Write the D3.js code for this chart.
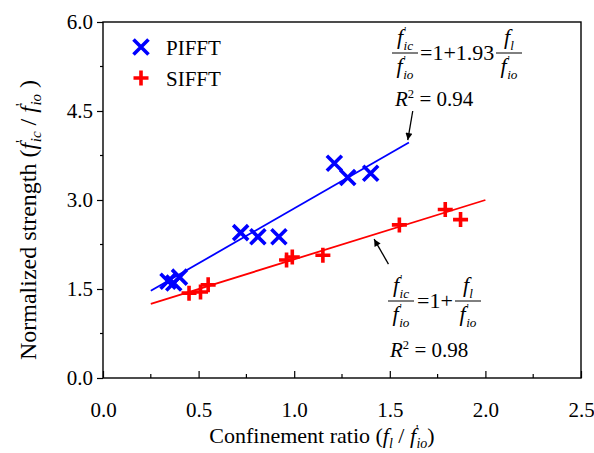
<!DOCTYPE html>
<html>
<head>
<meta charset="utf-8">
<script src="https://cdn.jsdelivr.net/npm/d3@7"></script>
<style>
  html, body { margin: 0; padding: 0; background: #fff; }
  svg { display: block; }
  svg text { font-family: "Times New Roman", Times, "Liberation Serif", "DejaVu Serif", serif; fill: #000; }
</style>
</head>
<body>
<svg id="chart" width="594" height="453"></svg>
<script>
// PIFFT specimens (blue crosses)
const pifftRatio    = [0.34, 0.37, 0.40, 0.72, 0.81, 0.92, 1.21, 1.28, 1.40];
const pifftStrength = [1.63, 1.60, 1.70, 2.45, 2.38, 2.38, 3.62, 3.38, 3.45];
// SIFFT specimens (red plus signs)
const sifftRatio    = [0.45, 0.51, 0.55, 0.96, 0.99, 1.15, 1.55, 1.79, 1.87];
const sifftStrength = [1.43, 1.45, 1.57, 1.99, 2.04, 2.07, 2.58, 2.84, 2.67];
// regression lines: [start, end] in (ratio, strength)
const pifftFit = [[0.25, 1.47], [1.60, 3.97]];
const sifftFit = [[0.25, 1.25], [2.00, 3.00]];
// axis ticks
const xTicks = [0.0, 0.5, 1.0, 1.5, 2.0, 2.5];
const yTicks = [0.0, 1.5, 3.0, 4.5, 6.0];
const xMinor = [0.25, 0.75, 1.25, 1.75, 2.25];
const yMinor = [0.75, 2.25, 3.75, 5.25];
// callout arrows: [tail, head] in data space
const arrowTop    = [[1.62, 4.50], [1.594, 4.01]];
const arrowBottom = [[1.493, 1.92], [1.418, 2.34]];

const SERIF = '"Times New Roman", Times, "Liberation Serif", "DejaVu Serif", serif';
const BLUE = "#0000ff", RED = "#ff0000";
const svg = d3.select("#chart");
const margin = {left: 103, right: 13, top: 22, bottom: 75};
const W = 594, H = 453;
const x = d3.scaleLinear().domain([0, 2.5]).range([margin.left, W - margin.right]);
const y = d3.scaleLinear().domain([0, 6]).range([H - margin.bottom, margin.top]);

const defs = svg.append("defs");
defs.append("marker").attr("id", "head").attr("viewBox", "0 0 10 10")
  .attr("refX", 10).attr("refY", 5).attr("markerWidth", 10).attr("markerHeight", 7)
  .attr("markerUnits", "userSpaceOnUse").attr("orient", "auto")
  .append("path").attr("d", "M0,0 L10,5 L0,10 Z").attr("fill", "#000");

// frame
svg.append("rect").attr("x", x(0)).attr("y", y(6))
  .attr("width", x(2.5) - x(0)).attr("height", y(0) - y(6))
  .attr("fill", "none").attr("stroke", "#000").attr("stroke-width", 1.4);

// bottom axis: ticks point inward
const xAxis = svg.append("g").attr("transform", `translate(0,${y(0)})`)
  .call(d3.axisBottom(x).tickValues(xTicks).tickSize(-7).tickFormat(d3.format(".1f")));
xAxis.attr("font-family", null).attr("font-size", null);
xAxis.select(".domain").remove();
xAxis.selectAll("line").attr("stroke-width", 1.2);
xAxis.selectAll("text").attr("y", 24).style("font-size", "21px").style("font-family", SERIF);
svg.append("g").selectAll("line").data(xMinor).join("line")
  .attr("x1", d => x(d)).attr("x2", d => x(d))
  .attr("y1", y(0)).attr("y2", y(0) - 4).attr("stroke", "#000").attr("stroke-width", 1.2);

// left axis: ticks point outward
const yAxis = svg.append("g").attr("transform", `translate(${x(0)},0)`)
  .call(d3.axisLeft(y).tickValues(yTicks).tickSize(6).tickPadding(4).tickFormat(d3.format(".1f")));
yAxis.attr("font-family", null).attr("font-size", null);
yAxis.select(".domain").remove();
yAxis.selectAll("line").attr("stroke-width", 1.2);
yAxis.selectAll("text").style("font-size", "21px").style("font-family", SERIF);
svg.append("g").selectAll("line").data(yMinor).join("line")
  .attr("x1", x(0) - 3).attr("x2", x(0))
  .attr("y1", d => y(d)).attr("y2", d => y(d)).attr("stroke", "#000").attr("stroke-width", 1.2);

// fit lines
const line = d3.line().x(d => x(d[0])).y(d => y(d[1]));
svg.append("path").attr("d", line(pifftFit)).attr("stroke", BLUE).attr("stroke-width", 1.8).attr("fill", "none");
svg.append("path").attr("d", line(sifftFit)).attr("stroke", RED).attr("stroke-width", 1.8).attr("fill", "none");

// markers
const cross = (cx, cy, h) => `M${cx - h},${cy - h}L${cx + h},${cy + h}M${cx - h},${cy + h}L${cx + h},${cy - h}`;
const plus = (cx, cy, h) => `M${cx - h},${cy}L${cx + h},${cy}M${cx},${cy - h}L${cx},${cy + h}`;
const pifft = pifftRatio.map((r, i) => [r, pifftStrength[i]]);
const sifft = sifftRatio.map((r, i) => [r, sifftStrength[i]]);
svg.append("g").selectAll("path").data(pifft).join("path")
  .attr("d", d => cross(x(d[0]), y(d[1]), 7.5)).attr("stroke", BLUE).attr("stroke-width", 3.6).attr("fill", "none");
svg.append("g").selectAll("path").data(sifft).join("path")
  .attr("d", d => plus(x(d[0]), y(d[1]), 7.5)).attr("stroke", RED).attr("stroke-width", 3.6).attr("fill", "none");

// legend
svg.append("path").attr("d", cross(141, 47, 7.5)).attr("stroke", BLUE).attr("stroke-width", 3.6).attr("fill", "none");
svg.append("path").attr("d", plus(141, 78, 7.5)).attr("stroke", RED).attr("stroke-width", 3.6).attr("fill", "none");
svg.append("text").attr("x", 166).attr("y", 55).style("font-size", "21px").text("PIFFT");
svg.append("text").attr("x", 166).attr("y", 86).style("font-size", "21px").text("SIFFT");

// arrows
[arrowTop, arrowBottom].forEach(a => {
  svg.append("line").attr("x1", x(a[0][0])).attr("y1", y(a[0][1]))
    .attr("x2", x(a[1][0])).attr("y2", y(a[1][1]))
    .attr("stroke", "#000").attr("stroke-width", 1.3).attr("marker-end", "url(#head)");
});

// math helpers
function term(g, cx, by, base, sub, prime, fs) {
  const t = g.append("text").attr("x", cx).attr("y", by).attr("text-anchor", "middle")
    .style("font-size", fs + "px");
  t.append("tspan").style("font-style", "italic").text(base);
  if (prime) {
    t.append("tspan").attr("dy", -fs * 0.45).attr("dx", fs * 0.05).style("font-size", (fs * 0.5) + "px").text("'");
    t.append("tspan").attr("dy", fs * 0.7).attr("dx", -fs * 0.12)
      .style("font-style", "italic").style("font-size", (fs * 0.6) + "px").text(sub);
  } else {
    t.append("tspan").attr("dy", fs * 0.25)
      .style("font-style", "italic").style("font-size", (fs * 0.6) + "px").text(sub);
  }
}
function frac(g, cx, barY, w, num, den, fs) {
  term(g, cx, barY - 9, num[0], num[1], num[2], fs);
  g.append("line").attr("x1", cx - w / 2).attr("x2", cx + w / 2)
    .attr("y1", barY).attr("y2", barY).attr("stroke", "#000").attr("stroke-width", 1);
  term(g, cx, barY + 20, den[0], den[1], den[2], fs);
}
function rSquared(g, x0, by, val, fs) {
  const t = g.append("text").attr("x", x0).attr("y", by).style("font-size", fs + "px");
  t.append("tspan").style("font-style", "italic").text("R");
  t.append("tspan").attr("dy", -fs * 0.4).style("font-size", (fs * 0.6) + "px").text("2");
  t.append("tspan").attr("dy", fs * 0.4).text(" = " + val);
}

// PIFFT equation
const eqTop = svg.append("g");
frac(eqTop, 405, 53, 26, ["f", "ic", true], ["f", "io", true], 22);
eqTop.append("text").attr("x", 420).attr("y", 60).style("font-size", "22px").text("=1+1.93");
frac(eqTop, 509, 53, 26, ["f", "l", false], ["f", "io", true], 22);
rSquared(eqTop, 395, 106, "0.94", 21);

// SIFFT equation
const eqBot = svg.append("g");
frac(eqBot, 401, 301, 26, ["f", "ic", true], ["f", "io", true], 22);
eqBot.append("text").attr("x", 417).attr("y", 308).style("font-size", "22px").text("=1+");
frac(eqBot, 468, 301, 26, ["f", "l", false], ["f", "io", true], 22);
rSquared(eqBot, 390, 357, "0.98", 21);

// axis titles
const xt = svg.append("text").attr("x", 322).attr("y", 443)
  .attr("text-anchor", "middle").style("font-size", "22px");
xt.append("tspan").text("Confinement ratio (");
xt.append("tspan").style("font-style", "italic").text("f");
xt.append("tspan").attr("dy", 5).style("font-style", "italic").style("font-size", "14px").text("l");
xt.append("tspan").attr("dy", -5).text(" / ");
xt.append("tspan").style("font-style", "italic").text("f");
xt.append("tspan").attr("dy", -10).style("font-size", "13px").text("'");
xt.append("tspan").attr("dy", 15).attr("dx", -2).style("font-style", "italic").style("font-size", "14px").text("io");
xt.append("tspan").attr("dy", -5).text(")");

const yt = svg.append("text").attr("transform", "translate(36,220) rotate(-90)")
  .attr("text-anchor", "middle").style("font-size", "24px");
yt.append("tspan").text("Normalized strength (");
yt.append("tspan").style("font-style", "italic").text("f");
yt.append("tspan").attr("dy", -10).style("font-size", "14px").text("'");
yt.append("tspan").attr("dy", 15).attr("dx", -2).style("font-style", "italic").style("font-size", "15px").text("ic");
yt.append("tspan").attr("dy", -5).text(" / ");
yt.append("tspan").style("font-style", "italic").text("f");
yt.append("tspan").attr("dy", -10).style("font-size", "14px").text("'");
yt.append("tspan").attr("dy", 15).attr("dx", -2).style("font-style", "italic").style("font-size", "15px").text("io");
yt.append("tspan").attr("dy", -5).text(" )");
</script>
</body>
</html>
